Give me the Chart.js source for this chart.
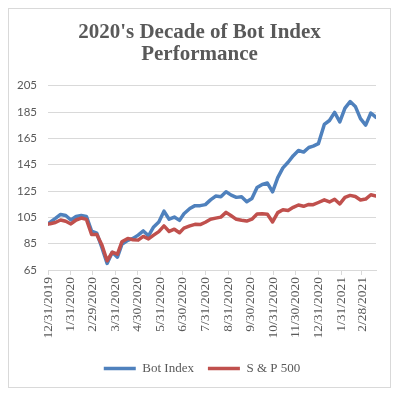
<!DOCTYPE html>
<html><head><meta charset="utf-8">
<script src="https://cdn.jsdelivr.net/npm/chart.js@4/dist/chart.umd.min.js"></script>
<style>html,body{margin:0;padding:0;background:#fff}canvas{display:block}</style>
</head><body>
<canvas id="c" width="400" height="395"></canvas>
<script>
const dates = [
 '2019-12-31',
 '2020-01-03','2020-01-10','2020-01-17','2020-01-24','2020-01-31',
 '2020-02-07','2020-02-14','2020-02-21','2020-02-28',
 '2020-03-06','2020-03-13','2020-03-20','2020-03-27',
 '2020-04-03','2020-04-09','2020-04-17','2020-04-24',
 '2020-05-01','2020-05-08','2020-05-15','2020-05-22','2020-05-29',
 '2020-06-05','2020-06-12','2020-06-19','2020-06-26',
 '2020-07-02','2020-07-10','2020-07-17','2020-07-24','2020-07-31',
 '2020-08-07','2020-08-14','2020-08-21','2020-08-28',
 '2020-09-04','2020-09-11','2020-09-18','2020-09-25',
 '2020-10-02','2020-10-09','2020-10-16','2020-10-23','2020-10-30',
 '2020-11-06','2020-11-13','2020-11-20','2020-11-27',
 '2020-12-04','2020-12-11','2020-12-18','2020-12-24','2020-12-31',
 '2021-01-08','2021-01-15','2021-01-22','2021-01-29',
 '2021-02-05','2021-02-12','2021-02-19','2021-02-26',
 '2021-03-05','2021-03-12','2021-03-19'
];
const botIndex = [
 100,
 101.4,104.2,107.2,106.4,103,105.7,106.4,105.7,94.5,93,
 82,70,78.5,74.8,84.5,87.5,89,91.5,94.7,91,
 97.7,101.5,109.7,103.6,105.2,102.7,107.7,111.7,113.9,113.9,
 114.7,118.3,121.2,120.7,124.4,121.9,120.2,120.7,116.9,119.4,
 127.7,130,131.1,124.4,135.2,142.6,146.9,151.9,155.8,154.6,
 158.1,159.1,161,175.6,178.6,184.8,177.5,188,193,189.3,
 180,175.1,184.3,181
];
const sp500 = [
 100,
 100.2,101.1,103,102,100,103,104.5,103.5,92,92,
 84,72,78.5,77,86.4,89,88,87.7,90.5,88.6,
 91.5,94.2,98.5,94.3,96,93.3,96.8,98.5,99.7,99.5,
 101.3,103.6,104.4,105.2,108.8,106.2,103.5,102.8,102.2,103.6,
 107.5,107.8,107.3,101.5,108.6,110.8,110.2,112.6,114.4,113.4,
 114.8,114.6,116.3,118.3,116.7,118.8,115.2,120.2,121.7,120.9,
 118.2,118.9,122.2,121.2
];
const tickLabels = ['12/31/2019','1/31/2020','2/29/2020','3/31/2020','4/30/2020','5/31/2020',
 '6/30/2020','7/31/2020','8/31/2020','9/30/2020','10/31/2020','11/30/2020','12/31/2020',
 '1/31/2021','2/28/2021'];
const seriesNames = ['Bot Index', 'S & P 500'];
const titleLines = ["2020's Decade of Bot Index", 'Performance'];

const DAY = 86400000;
const origin = Date.UTC(2019, 11, 31);
function dayOfIso(s){ const [y,m,d] = s.split('-').map(Number); return (Date.UTC(y,m-1,d)-origin)/DAY; }
function dayOfUS(s){ const [m,d,y] = s.split('/').map(Number); return (Date.UTC(y,m-1,d)-origin)/DAY; }
const xs = dates.map(dayOfIso);
const tickDays = tickLabels.map(dayOfUS);

const SERIF = '"Liberation Serif", "Times New Roman", serif';
const GRAY = '#595959';

const frame = {
  id: 'frame',
  beforeDraw(c){
    const g = c.ctx; g.save();
    g.fillStyle = '#fff'; g.fillRect(0,0,c.width,c.height);
    g.strokeStyle = '#d9d9d9'; g.lineWidth = 1;
    g.strokeRect(8.5, 8.5, 382, 379);
    g.restore();
  },
  afterLayout(c){
    // centre title and legend on the frame rather than on the padded layout box
    if (c.legend) { c.legend.left += 7; c.legend.right += 7; }
    if (c.titleBlock) { c.titleBlock.left += 4.5; c.titleBlock.right += 4.5; }
  }
};

new Chart(document.getElementById('c'), {
  type: 'line',
  data: {
    datasets: [
      { label: seriesNames[0], data: xs.map((x,i)=>({x, y: botIndex[i]})),
        borderColor: '#4F81BD', backgroundColor: '#4F81BD', borderWidth: 3.5,
        pointRadius: 0, tension: 0, order: 2, borderJoinStyle: 'round', borderCapStyle: 'round' },
      { label: seriesNames[1], data: xs.map((x,i)=>({x, y: sp500[i]})),
        borderColor: '#C0504D', backgroundColor: '#C0504D', borderWidth: 3.5,
        pointRadius: 0, tension: 0, order: 1, borderJoinStyle: 'round', borderCapStyle: 'round' }
    ]
  },
  options: {
    responsive: false, animation: false, devicePixelRatio: 1,
    layout: { padding: { left: 14, right: 24, top: 0, bottom: 10 } },
    plugins: {
      title: { display: true, text: titleLines, color: GRAY,
        font: { family: SERIF, size: 21, weight: 'bold', lineHeight: 1.066 },
        padding: { top: 21, bottom: 20 } },
      legend: { position: 'bottom',
        labels: { usePointStyle: true, pointStyle: 'line', pointStyleWidth: 32,
          color: GRAY, font: { family: SERIF, size: 13 }, padding: 14,
          sort: (a,b) => a.datasetIndex - b.datasetIndex } },
      tooltip: { enabled: false }
    },
    scales: {
      x: { type: 'linear', min: 0, max: xs[xs.length-1],
        afterBuildTicks: s => { s.ticks = tickDays.map(v => ({ value: v })); },
        afterFit: s => { s.height = 78; },
        ticks: { autoSkip: false, minRotation: 90, maxRotation: 90, padding: 2,
          color: GRAY, font: { family: SERIF, size: 13.5 },
          callback: (v, i) => tickLabels[i] },
        grid: { display: true, drawOnChartArea: false, drawTicks: true, tickLength: 5, color: '#d9d9d9' },
        border: { display: true, color: '#d9d9d9', width: 1 } },
      y: { min: 65, max: 205,
        afterFit: s => { s.width = 34; },
        ticks: { stepSize: 20, padding: 11, color: GRAY, font: { family: 'Lato', size: 11.5 } },
        grid: { color: '#d9d9d9', drawTicks: false },
        border: { display: false } }
    }
  },
  plugins: [frame]
});
</script>
</body></html>
